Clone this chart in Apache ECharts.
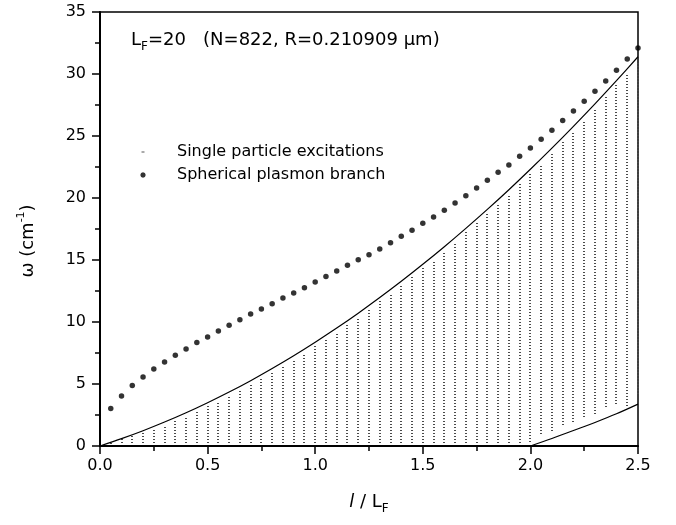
<!DOCTYPE html>
<html><head><meta charset="utf-8">
<script src="https://cdn.jsdelivr.net/npm/echarts@6/dist/echarts.min.js"></script>
<style>html,body{margin:0;padding:0;background:#fff}#c{width:676px;height:525px}</style>
</head><body><div id="c"></div>
<script>
// ---- data ----
const xTickLabels = ['0.0', '0.5', '1.0', '1.5', '2.0', '2.5'];
const yTickLabels = ['0', '5', '10', '15', '20', '25', '30', '35'];

// l / L_F positions (l = 1..50, L_F = 20)
const lx = [0.05,0.10,0.15,0.20,0.25,0.30,0.35,0.40,0.45,0.50,
            0.55,0.60,0.65,0.70,0.75,0.80,0.85,0.90,0.95,1.00,
            1.05,1.10,1.15,1.20,1.25,1.30,1.35,1.40,1.45,1.50,
            1.55,1.60,1.65,1.70,1.75,1.80,1.85,1.90,1.95,2.00,
            2.05,2.10,2.15,2.20,2.25,2.30,2.35,2.40,2.45,2.50];

// Spherical plasmon branch
const plasmonY = [3.02,4.03,4.87,5.56,6.21,6.77,7.31,7.82,8.34,8.79,
                  9.27,9.73,10.19,10.65,11.05,11.48,11.94,12.34,12.77,13.23,
                  13.66,14.11,14.57,15.03,15.43,15.89,16.40,16.91,17.40,17.96,
                  18.47,19.01,19.60,20.19,20.81,21.43,22.07,22.66,23.36,24.03,
                  24.73,25.46,26.24,27.02,27.80,28.60,29.44,30.30,31.21,32.10];

// Single particle excitations: lowest and highest level of each column
const spLow = [0.20,0.25,0.25,0.25,0.25,0.25,0.25,0.25,0.25,0.25,
               0.25,0.25,0.25,0.25,0.25,0.25,0.25,0.25,0.25,0.25,
               0.25,0.25,0.25,0.25,0.25,0.25,0.25,0.25,0.25,0.25,
               0.25,0.25,0.25,0.25,0.25,0.25,0.25,0.25,0.25,0.30,
               0.95,1.25,1.70,1.95,2.35,2.60,3.15,3.40,3.25,4.20];
const spHigh = [0.28,0.45,0.70,1.00,1.30,1.65,2.00,2.35,2.75,3.15,
                3.55,4.00,4.45,4.90,5.40,5.90,6.40,6.90,7.45,8.00,
                8.55,9.15,9.75,10.35,10.95,11.60,12.25,12.90,13.55,14.25,
                14.95,15.65,16.40,17.15,17.90,18.65,19.45,20.25,21.05,21.90,
                22.70,23.60,24.45,25.35,26.25,27.15,28.05,29.00,29.95,30.90];

// Upper boundary of the particle-hole continuum
const upperX = [0,0.1,0.2,0.3,0.4,0.5,0.6,0.7,0.8,0.9,1.0,1.1,1.2,1.3,1.4,1.5,1.6,1.7,1.8,1.9,2.0,2.1,2.2,2.3,2.4,2.5];
const upperY = [0,0.59,1.23,1.93,2.68,3.49,4.35,5.27,6.25,7.28,8.37,9.51,10.71,11.97,13.28,14.65,16.07,17.55,19.08,20.67,22.32,24.02,25.78,27.59,29.46,31.39];
// Lower boundary (appears for l/L_F > 2)
const lowerX = [2.0,2.1,2.2,2.3,2.4,2.5];
const lowerY = [0,0.6,1.25,1.9,2.6,3.38];

// ---- chart ----
const FONT = 'DejaVu Sans';
const zip = (a, b) => a.map((v, i) => [v, b[i]]);
const columns = lx.map((x, i) => [x, spLow[i], spHigh[i]]);

const chart = echarts.init(document.getElementById('c'), null, {renderer: 'canvas'});
chart.setOption({
  animation: false,
  backgroundColor: '#fff',
  grid: {left: 100, right: 38, top: 12, bottom: 79, show: true, borderColor: '#000', borderWidth: 1.5, backgroundColor: 'transparent'},
  title: {
    text: '{n|L}{s|F}{n|=20   (N=822, R=0.210909 μm)}',
    left: 131, top: 27, padding: 0,
    textStyle: {
      fontWeight: 'normal',
      rich: {
        n: {fontFamily: FONT, fontSize: 18, fontWeight: 'normal', color: '#000', lineHeight: 24},
        s: {fontFamily: FONT, fontSize: 12, fontWeight: 'normal', color: '#000', lineHeight: 26, verticalAlign: 'bottom'}
      }
    }
  },
  legend: {
    orient: 'vertical', left: 138, top: 144, padding: 0,
    itemWidth: 10, itemHeight: 10, itemGap: 7,
    selectedMode: false,
    textStyle: {fontFamily: FONT, fontSize: 16, color: '#000', padding: [0, 0, 0, 24]},
    data: [
      {name: 'Single particle excitations', icon: 'path://M0,0M10,10M3.5,4.5H6.5V5.5H3.5Z'},
      {name: 'Spherical plasmon branch', icon: 'path://M0,0M10,10M5,2.3L6.9,3.1L7.7,5L6.9,6.9L5,7.7L3.1,6.9L2.3,5L3.1,3.1Z'}
    ]
  },
  xAxis: {
    type: 'value', min: 0, max: 2.5, interval: 0.5,
    name: '{i|l}{n| / L}{s|F}', nameLocation: 'middle', nameGap: 43,
    nameTextStyle: {
      rich: {
        i: {fontFamily: FONT, fontSize: 18, fontStyle: 'italic', color: '#000', lineHeight: 24},
        n: {fontFamily: FONT, fontSize: 18, color: '#000', lineHeight: 24},
        s: {fontFamily: FONT, fontSize: 12, color: '#000', lineHeight: 26, verticalAlign: 'bottom'}
      }
    },
    axisLine: {show: true, onZero: false, lineStyle: {color: '#000', width: 2}},
    axisTick: {show: true, inside: false, length: 8, lineStyle: {color: '#000', width: 1.5}},
    minorTick: {show: true, splitNumber: 2, length: 5, lineStyle: {color: '#000', width: 1.5}},
    axisLabel: {fontFamily: FONT, fontSize: 16, color: '#000', margin: 12,
      formatter: v => xTickLabels[Math.round(v / 0.5)]},
    splitLine: {show: false}, minorSplitLine: {show: false}
  },
  yAxis: {
    type: 'value', min: 0, max: 35, interval: 5,
    name: '{n|ω (cm}{p|-1}{n|)}', nameLocation: 'middle', nameGap: 60, nameRotate: 90,
    nameTextStyle: {
      padding: [0, 24, 0, 0],
      rich: {
        n: {fontFamily: FONT, fontSize: 18, color: '#000', lineHeight: 24},
        p: {fontFamily: FONT, fontSize: 11, color: '#000', lineHeight: 24, verticalAlign: 'top'}
      }
    },
    axisLine: {show: true, onZero: false, lineStyle: {color: '#000', width: 2}},
    axisTick: {show: true, inside: false, length: 8, lineStyle: {color: '#000', width: 1.5}},
    minorTick: {show: true, splitNumber: 2, length: 5, lineStyle: {color: '#000', width: 1.5}},
    axisLabel: {fontFamily: FONT, fontSize: 16, color: '#000', margin: 14,
      formatter: v => yTickLabels[Math.round(v / 5)]},
    splitLine: {show: false}, minorSplitLine: {show: false}
  },
  series: [
    {
      name: 'Single particle excitations',
      type: 'custom',
      itemStyle: {color: '#555'},
      encode: {x: 0, y: [1, 2]},
      data: columns,
      renderItem: function (params, api) {
        const a = api.coord([api.value(0), api.value(1)]);
        const b = api.coord([api.value(0), api.value(2)]);
        const x = Math.round(a[0]);
        return {type: 'line', shape: {x1: x, y1: Math.round(a[1]), x2: x, y2: Math.round(b[1]) - 1},
          style: {stroke: '#4a4a4a', lineWidth: 2, lineDash: [1, 2], fill: null}};
      },
      z: 1
    },
    {
      name: 'upper', type: 'line', data: zip(upperX, upperY), smooth: 0.3,
      showSymbol: false, symbol: 'none', lineStyle: {color: '#000', width: 1.2}, z: 3, silent: true
    },
    {
      name: 'lower', type: 'line', data: zip(lowerX, lowerY), smooth: 0.3,
      showSymbol: false, symbol: 'none', lineStyle: {color: '#000', width: 1.2}, z: 3, silent: true
    },
    {
      name: 'Spherical plasmon branch', type: 'scatter', data: zip(lx, plasmonY),
      symbol: 'circle', symbolSize: 5.5, itemStyle: {color: '#000'}, z: 4
    }
  ]
});
</script>
</body></html>
